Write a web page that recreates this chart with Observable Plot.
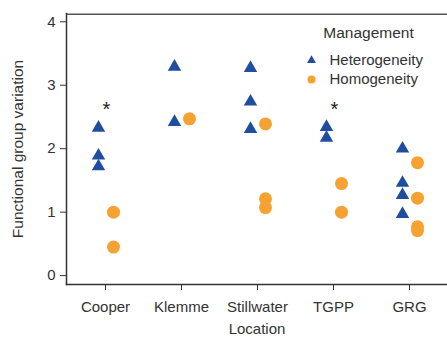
<!DOCTYPE html>
<html><head><meta charset="utf-8">
<script src="https://cdn.jsdelivr.net/npm/d3@7"></script>
<script src="https://cdn.jsdelivr.net/npm/@observablehq/plot@0.6"></script>
<style>body{margin:0;background:#fff}</style>
</head><body><div id="chart"></div>
<script>
const locations = ["Cooper","Klemme","Stillwater","TGPP","GRG"];
const heteroLoc = ["Cooper","Cooper","Cooper","Klemme","Klemme","Stillwater","Stillwater","Stillwater","TGPP","TGPP","GRG","GRG","GRG","GRG"];
const heteroVal = [2.33,1.89,1.72,3.29,2.42,3.27,2.74,2.31,2.34,2.17,2.0,1.46,1.27,0.97];
const homoLoc = ["Cooper","Cooper","Klemme","Stillwater","Stillwater","Stillwater","TGPP","TGPP","GRG","GRG","GRG","GRG"];
const homoVal = [1.0,0.45,2.47,2.39,1.21,1.07,1.45,1.0,1.78,1.22,0.77,0.71];
const sigLoc = ["Cooper","TGPP"];
const sigVal = [2.67,2.67];
const yTicks = [0,1,2,3,4];
const legendTitle = "Management";
const seriesNames = ["Heterogeneity","Homogeneity"];
const colors = ["#1f4e9e","#f5a232"];

const hetero = heteroLoc.map((l,i)=>({loc:l, v:heteroVal[i]}));
const homo = homoLoc.map((l,i)=>({loc:l, v:homoVal[i]}));
const sig = sigLoc.map((l,i)=>({loc:l, v:sigVal[i]}));
const yMin = -0.14, yMax = 4.13;

const chart = Plot.plot({
  width:447, height:337,
  marginLeft:66, marginTop:13, marginBottom:53, marginRight:0,
  style:{fontFamily:"Liberation Sans", fontSize:"15px"},
  x:{type:"point", domain:locations, padding:0.5, axis:null},
  y:{domain:[yMin,yMax], axis:null},
  marks:[
    Plot.ruleY([yMax - 0.01],{stroke:"#555", strokeWidth:1.5}),
    Plot.frame({anchor:"left", stroke:"#333", strokeWidth:1.5}),
    Plot.frame({anchor:"bottom", stroke:"#333", strokeWidth:1.5}),
    Plot.axisY(yTicks,{tickSize:6, tickPadding:5, fontSize:15, label:null, stroke:"#333", fill:"#333", tickFormat:"d"}),
    Plot.axisX(locations,{tickSize:6, tickPadding:11, fontSize:15, label:null, stroke:"#333", fill:"#333"}),
    Plot.text(["Functional group variation"],{frameAnchor:"left", textAnchor:"middle", lineAnchor:"middle", dx:-48, rotate:-90, fontSize:15.5, fill:"#333"}),
    Plot.text(["Location"],{frameAnchor:"bottom", lineAnchor:"middle", dy:45, fontSize:15, fill:"#333"}),
    Plot.dot(hetero,{x:"loc", y:"v", dx:-7, symbol:"triangle", r:5, fill:colors[0], stroke:null}),
    Plot.dot(homo,{x:"loc", y:"v", dx:8, symbol:"circle", r:6.5, fill:colors[1], stroke:null}),
    Plot.text(sig,{x:"loc", y:"v", text:()=>"*", dx:1, dy:3, fontSize:20, fill:"#222"}),
    Plot.text([legendTitle],{frameAnchor:"top-left", dx:302, dy:20, textAnchor:"middle", lineAnchor:"middle", fontSize:15.5, fill:"#333"}),
    Plot.dot([seriesNames[0]],{frameAnchor:"top-left", dx:245, dy:47, symbol:"triangle", r:3.3, fill:colors[0], stroke:null}),
    Plot.dot([seriesNames[1]],{frameAnchor:"top-left", dx:245, dy:66, symbol:"circle", r:4, fill:colors[1], stroke:null}),
    Plot.text([seriesNames[0]],{frameAnchor:"top-left", dx:263, dy:47, textAnchor:"start", lineAnchor:"middle", fontSize:15, fill:"#333"}),
    Plot.text([seriesNames[1]],{frameAnchor:"top-left", dx:263, dy:66, textAnchor:"start", lineAnchor:"middle", fontSize:15, fill:"#333"})
  ]
});
document.getElementById("chart").appendChild(chart);
</script></body></html>
